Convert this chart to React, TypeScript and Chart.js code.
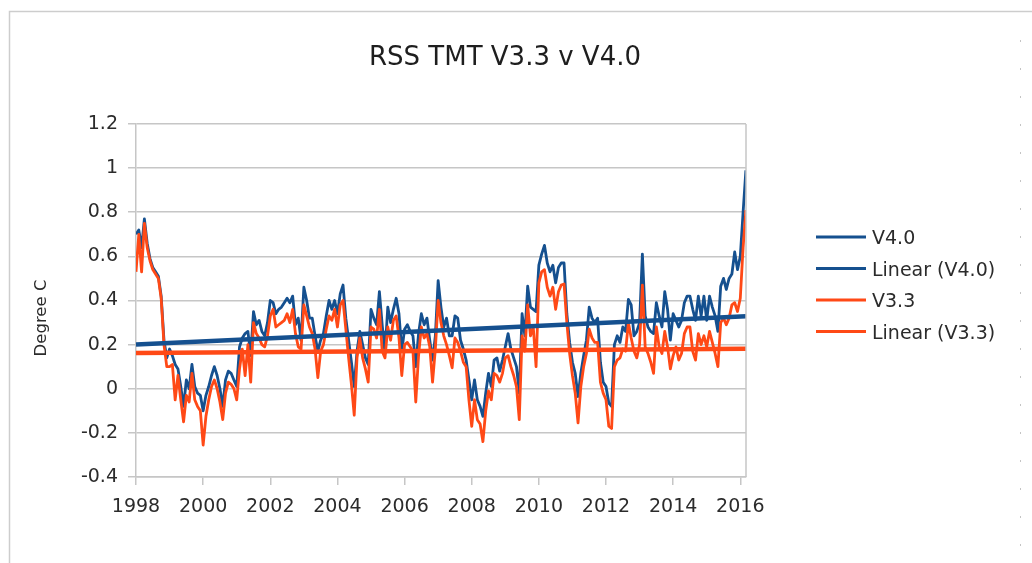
import { useEffect, useRef } from 'react';
import { Chart, registerables } from 'chart.js';

Chart.register(...registerables);

const TITLE = 'RSS TMT V3.3 v V4.0';
const Y_TITLE = 'Degree C';
const START_YEAR = 1998;
const X_MIN = 1998;
const X_MAX = 2016.17;
const X_TICKS = [1998, 2000, 2002, 2004, 2006, 2008, 2010, 2012, 2014, 2016];
const Y_TICKS = [-0.4, -0.2, 0, 0.2, 0.4, 0.6, 0.8, 1, 1.2];
const Y_TICK_LABELS = ['-0.4', '-0.2', '0', '0.2', '0.4', '0.6', '0.8', '1', '1.2'];

// Monthly values, Jan 1998 .. Mar 2016
const V40 = [
  0.70, 0.72, 0.64, 0.77, 0.66, 0.59, 0.55, 0.53, 0.51, 0.42, 0.22, 0.14,
  0.18, 0.15, 0.11, 0.09, 0.01, -0.08, 0.04, 0.00, 0.11, 0.01, -0.02, -0.03,
  -0.10, -0.03, 0.01, 0.06, 0.10, 0.06, 0.00, -0.08, 0.04, 0.08, 0.07, 0.04,
  0.01, 0.19, 0.23, 0.25, 0.26, 0.15, 0.35, 0.29, 0.31, 0.26, 0.24, 0.30,
  0.40, 0.39, 0.34, 0.36, 0.37, 0.39, 0.41, 0.39, 0.42, 0.29, 0.32, 0.22,
  0.46, 0.40, 0.32, 0.32, 0.24, 0.17, 0.22, 0.25, 0.33, 0.40, 0.36, 0.40,
  0.34, 0.43, 0.47, 0.32, 0.22, 0.12, 0.01, 0.17, 0.26, 0.20, 0.14, 0.11,
  0.36, 0.32, 0.29, 0.44, 0.29, 0.16, 0.37, 0.30, 0.36, 0.41, 0.34, 0.17,
  0.27, 0.29, 0.26, 0.24, 0.10, 0.25, 0.34, 0.29, 0.32, 0.22, 0.13, 0.24,
  0.49, 0.37, 0.28, 0.32, 0.24, 0.24, 0.33, 0.32, 0.22, 0.18, 0.13, 0.04,
  -0.05, 0.04, -0.05, -0.08, -0.125, -0.02, 0.07, 0.01, 0.13, 0.14, 0.08, 0.13,
  0.19, 0.25, 0.18, 0.14, 0.10, -0.02, 0.34, 0.24, 0.465, 0.37, 0.36, 0.35,
  0.56, 0.61, 0.65, 0.57, 0.53, 0.56, 0.48, 0.55, 0.57, 0.57, 0.34, 0.21,
  0.12, 0.07, -0.035, 0.07, 0.15, 0.22, 0.37, 0.32, 0.30, 0.32, 0.12, 0.03,
  0.01, -0.065, -0.08, 0.20, 0.24, 0.21, 0.28, 0.26, 0.405, 0.38, 0.24, 0.26,
  0.30, 0.61, 0.33, 0.28, 0.26, 0.25, 0.39, 0.33, 0.28, 0.44, 0.36, 0.22,
  0.34, 0.31, 0.28, 0.31, 0.39, 0.42, 0.42, 0.36, 0.31, 0.42, 0.33, 0.42,
  0.31, 0.42, 0.37, 0.33, 0.26, 0.465, 0.50, 0.45, 0.50, 0.52, 0.62, 0.54,
  0.60, 0.80, 0.99,
];

const V33 = [
  0.53, 0.70, 0.53, 0.75, 0.64, 0.58, 0.54, 0.52, 0.50, 0.41, 0.20, 0.10,
  0.10, 0.11, -0.05, 0.06, -0.05, -0.15, -0.03, -0.06, 0.07, -0.05, -0.08, -0.10,
  -0.255, -0.125, -0.05, 0.01, 0.04, 0.00, -0.06, -0.14, -0.02, 0.03, 0.02, 0.00,
  -0.05, 0.09, 0.18, 0.06, 0.20, 0.03, 0.30, 0.25, 0.23, 0.20, 0.19, 0.24,
  0.33, 0.36, 0.28, 0.29, 0.30, 0.31, 0.34, 0.30, 0.36, 0.25, 0.19, 0.18,
  0.38, 0.33, 0.28, 0.25, 0.18, 0.05, 0.17, 0.20, 0.27, 0.33, 0.31, 0.36,
  0.28, 0.38, 0.40, 0.27, 0.14, 0.02, -0.12, 0.14, 0.23, 0.14, 0.09, 0.03,
  0.28, 0.27, 0.23, 0.36, 0.17, 0.14, 0.28, 0.22, 0.31, 0.33, 0.23, 0.06,
  0.20, 0.21, 0.19, 0.17, -0.06, 0.15, 0.28, 0.23, 0.25, 0.19, 0.03, 0.18,
  0.40, 0.30, 0.24, 0.20, 0.15, 0.095, 0.23, 0.21, 0.17, 0.12, 0.10, -0.05,
  -0.17, -0.05, -0.14, -0.16, -0.24, -0.10, -0.01, -0.05, 0.07, 0.06, 0.03, 0.07,
  0.14, 0.15, 0.10, 0.06, 0.01, -0.14, 0.24, 0.17, 0.38, 0.24, 0.28, 0.10,
  0.48, 0.53, 0.54, 0.46, 0.42, 0.46, 0.36, 0.44, 0.47, 0.475, 0.30, 0.16,
  0.06, -0.02, -0.155, 0.01, 0.10, 0.16, 0.27, 0.23, 0.21, 0.21, 0.03, -0.02,
  -0.05, -0.17, -0.18, 0.10, 0.13, 0.14, 0.18, 0.17, 0.30, 0.23, 0.17, 0.14,
  0.20, 0.47, 0.19, 0.16, 0.12, 0.07, 0.28, 0.19, 0.16, 0.26, 0.19, 0.09,
  0.15, 0.19, 0.13, 0.16, 0.25, 0.28, 0.28, 0.17, 0.13, 0.25, 0.20, 0.24,
  0.19, 0.26, 0.21, 0.16, 0.10, 0.30, 0.32, 0.29, 0.32, 0.38, 0.39, 0.35,
  0.41, 0.64, 0.81,
];

// Linear trend end points (as drawn in the reference)
const TREND_YEARS = [1998, 2016.17];
const TREND_V40 = [0.2, 0.329];
const TREND_V33 = [0.162, 0.181];

const SERIES_NAMES = ['V4.0', 'Linear (V4.0)', 'V3.3', 'Linear (V3.3)'];

const BLUE = '#15508f';
const ORANGE = '#ff4916';
const GRID = '#c6c6c6';
const TEXT = '#2b2b2b';
const FONT = '"DejaVu Sans", "Liberation Sans", sans-serif';

const monthly = (vals: number[]) => vals.map((y, i) => ({ x: START_YEAR + i / 12, y }));
const trend = (vals: number[]) => vals.map((y, i) => ({ x: TREND_YEARS[i], y }));

const overlayPlugin = {
  id: 'overlay',
  afterDraw(chart: any) {
    const ctx = chart.ctx as CanvasRenderingContext2D;
    const area = chart.chartArea;
    ctx.save();
    // outer frame
    ctx.strokeStyle = '#cdcdcd';
    ctx.lineWidth = 1.5;
    ctx.beginPath();
    ctx.moveTo(9.5, 563);
    ctx.lineTo(9.5, 11.5);
    ctx.lineTo(1032, 11.5);
    ctx.stroke();
    // dotted right guide
    ctx.setLineDash([2, 26]);
    ctx.strokeStyle = '#c4c4c4';
    ctx.lineWidth = 1;
    ctx.beginPath();
    ctx.moveTo(1020.5, 40);
    ctx.lineTo(1020.5, 563);
    ctx.stroke();
    ctx.setLineDash([]);
    // plot right border
    ctx.strokeStyle = GRID;
    ctx.lineWidth = 1.5;
    ctx.beginPath();
    ctx.moveTo(area.right, area.top);
    ctx.lineTo(area.right, area.bottom);
    ctx.stroke();
    // title
    ctx.fillStyle = '#1e1e1e';
    ctx.font = `26px ${FONT}`;
    ctx.textAlign = 'center';
    ctx.textBaseline = 'alphabetic';
    ctx.fillText(TITLE, 505, 65);
    // y axis title
    ctx.save();
    ctx.translate(42, 318);
    ctx.rotate(-Math.PI / 2);
    ctx.font = `16.5px ${FONT}`;
    ctx.fillStyle = TEXT;
    ctx.textAlign = 'center';
    ctx.textBaseline = 'middle';
    ctx.fillText(Y_TITLE, 0, 0);
    ctx.restore();
    // legend
    const ds = chart.data.datasets;
    SERIES_NAMES.forEach((name, i) => {
      const d = ds.find((s: any) => s.label === name);
      const cy = 237 + i * 31.5;
      ctx.strokeStyle = d.borderColor;
      ctx.lineWidth = 3;
      ctx.beginPath();
      ctx.moveTo(816, cy);
      ctx.lineTo(866, cy);
      ctx.stroke();
      ctx.fillStyle = TEXT;
      ctx.font = `19px ${FONT}`;
      ctx.textAlign = 'left';
      ctx.textBaseline = 'alphabetic';
      ctx.fillText(name, 872, cy + 7);
    });
    ctx.restore();
  },
};

export default function App() {
  const ref = useRef<HTMLCanvasElement>(null);
  useEffect(() => {
    if (!ref.current) return;
    const chart = new Chart(ref.current, {
      type: 'line',
      data: {
        datasets: [
          {
            label: SERIES_NAMES[3],
            data: trend(TREND_V33),
            borderColor: ORANGE,
            borderWidth: 4.5,
            pointRadius: 0,
            order: 0,
          },
          {
            label: SERIES_NAMES[1],
            data: trend(TREND_V40),
            borderColor: BLUE,
            borderWidth: 4.5,
            pointRadius: 0,
            order: 1,
          },
          {
            label: SERIES_NAMES[2],
            data: monthly(V33),
            borderColor: ORANGE,
            borderWidth: 2.8,
            pointRadius: 0,
            borderJoinStyle: 'round',
            order: 2,
          },
          {
            label: SERIES_NAMES[0],
            data: monthly(V40),
            borderColor: BLUE,
            borderWidth: 2.8,
            pointRadius: 0,
            borderJoinStyle: 'round',
            order: 3,
          },
        ],
      },
      options: {
        responsive: false,
        animation: false,
        events: [],
        layout: { padding: { left: 0, top: 124, right: 1032 - 746, bottom: 0 } },
        plugins: {
          legend: { display: false },
          title: { display: false },
          tooltip: { enabled: false },
        },
        scales: {
          x: {
            type: 'linear',
            min: X_MIN,
            max: X_MAX,
            afterFit(s: any) {
              s.height = 86;
            },
            afterBuildTicks(s: any) {
              s.ticks = X_TICKS.map((v) => ({ value: v }));
            },
            grid: { drawOnChartArea: false, drawTicks: true, tickLength: 8, color: GRID, lineWidth: 1.5 },
            border: { color: GRID, width: 1.5 },
            ticks: {
              font: { family: FONT, size: 19 },
              color: TEXT,
              padding: 11,
              maxRotation: 0,
              autoSkip: false,
              callback: (v: any) => String(v),
            },
          },
          y: {
            type: 'linear',
            min: -0.4,
            max: 1.2,
            afterFit(s: any) {
              s.width = 136;
            },
            afterBuildTicks(s: any) {
              s.ticks = Y_TICKS.map((v) => ({ value: v }));
            },
            grid: { color: GRID, lineWidth: 1.5, tickLength: 8 },
            border: { color: GRID, width: 1.5 },
            ticks: {
              font: { family: FONT, size: 19 },
              color: TEXT,
              padding: 10,
              callback: (_v: any, i: number) => Y_TICK_LABELS[i],
            },
          },
        },
      },
      plugins: [overlayPlugin],
    } as any);
    return () => chart.destroy();
  }, []);
  return (
    <div style={{ position: 'absolute', left: 0, top: 0, width: 1032, height: 563, background: '#fff' }}>
      <canvas ref={ref} width={1032} height={563} style={{ display: 'block' }} />
    </div>
  );
}
